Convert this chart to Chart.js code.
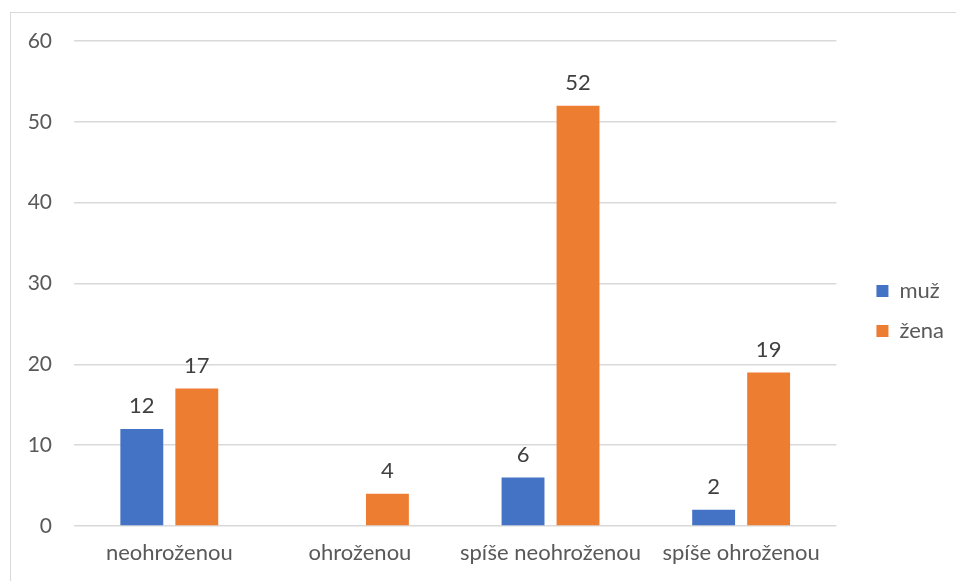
<!DOCTYPE html>
<html>
<head>
<meta charset="utf-8">
<script src="https://cdn.jsdelivr.net/npm/chart.js@4/dist/chart.umd.min.js"></script>
<style>
  body { margin: 0; background: #fff; }
  #wrap { position: relative; width: 956px; height: 581px; overflow: hidden; }
  #frame { position: absolute; left: 10px; top: 12px; width: 980px; height: 600px; border: 1px solid #d9d9d9; }
  #chartf1 { position: absolute; left: 0; top: 0; }
</style>
</head>
<body>
<div id="wrap">
  <div id="frame"></div>
  <canvas id="chartf1" width="956" height="581"></canvas>
</div>
<script>
//Categories and series
let categories = ['neohroženou', 'ohroženou', 'spíše neohroženou', 'spíše ohroženou'];
let muz_values = [12, null, 6, 2];
let zena_values = [17, 4, 52, 19];
let y_ticks = [0, 10, 20, 30, 40, 50, 60];

let font_family = 'Lato, "Open Sans", sans-serif';

//Draws the value above each bar
const bar_labels = {
    id: 'bar_labels',
    afterDatasetsDraw(chart) {
        let ctx = chart.ctx;
        ctx.save();
        ctx.font = '22px ' + font_family;
        ctx.fillStyle = '#404040';
        ctx.textAlign = 'center';
        ctx.textBaseline = 'bottom';
        chart.data.datasets.forEach((ds, i) => {
            chart.getDatasetMeta(i).data.forEach((bar, j) => {
                if (ds.data[j] === null) return;
                ctx.fillText(ds.data[j], bar.x, bar.y - 12);
            });
        });
        ctx.restore();
    }
};

let chart_canvas1 = document.getElementById('chartf1');

let chart = new Chart(chart_canvas1, {
    type: 'bar',
    data: {
        labels: categories,
        datasets: [
            { label: 'muž', data: muz_values, backgroundColor: '#4472C4' },
            { label: 'žena', data: zena_values, backgroundColor: '#ED7D31' }
        ]
    },
    options: {
        responsive: false,
        animation: false,
        categoryPercentage: 0.577,
        barPercentage: 0.78,
        layout: { padding: { left: 10, top: 41, right: 2, bottom: 0 } },
        plugins: {
            legend: {
                position: 'right',
                labels: {
                    boxWidth: 12,
                    boxHeight: 12,
                    padding: 18,
                    color: '#595959',
                    font: { family: font_family, size: 22 }
                }
            },
            tooltip: { enabled: false }
        },
        scales: {
            x: {
                grid: { display: false, drawTicks: false },
                border: { display: false },
                ticks: { color: '#595959', padding: 14, font: { family: font_family, size: 22 } },
                afterFit: (scale) => { scale.height = 55; }
            },
            y: {
                min: 0,
                max: 60,
                afterBuildTicks: (scale) => { scale.ticks = y_ticks.map(v => ({ value: v })); },
                grid: { color: '#d9d9d9', lineWidth: 1.5, drawTicks: false },
                border: { display: false },
                ticks: { color: '#595959', padding: 22, font: { family: font_family, size: 21 } },
                afterFit: (scale) => { scale.width = 64; }
            },
            //empty spacer between the plot and the legend
            gap: {
                position: 'right',
                min: 0,
                max: 60,
                grid: { display: false, drawTicks: false },
                border: { display: false },
                ticks: { display: false },
                afterFit: (scale) => { scale.width = 22; }
            }
        }
    },
    plugins: [bar_labels]
});
</script>
</body>
</html>
